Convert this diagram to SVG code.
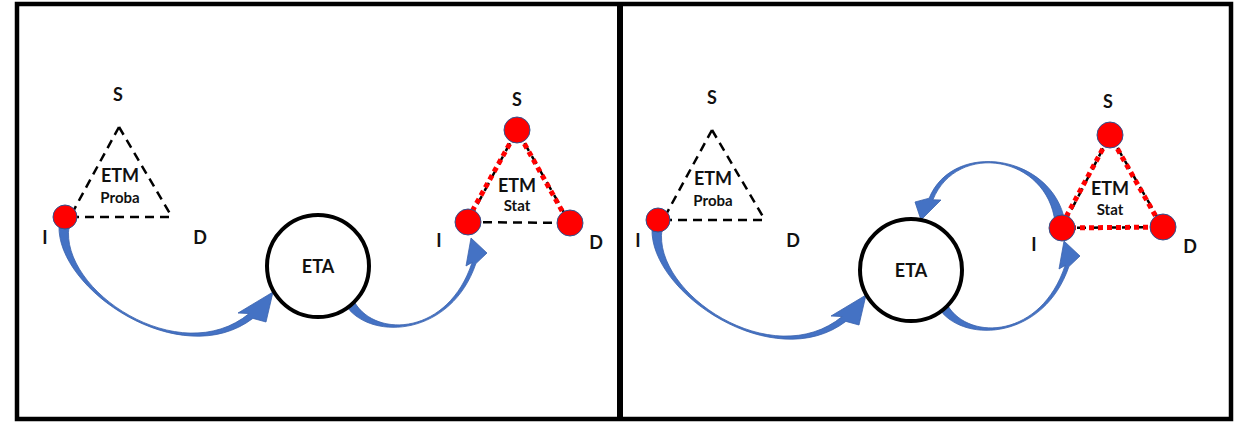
<svg xmlns="http://www.w3.org/2000/svg" width="1238" height="422" viewBox="0 0 1238 422">
  <style>
    .lbl { font-family: Lato, "Liberation Sans", sans-serif; font-weight: 700; fill: #111; text-anchor: middle; }
    .big { font-size: 18px; }
    .small { font-size: 15px; }
    .dash { fill: none; stroke: #000; stroke-width: 2.5; stroke-dasharray: 9 6; }
    .dots { fill: none; stroke: #ff0000; stroke-width: 5; stroke-dasharray: 5 4; }
    .node { fill: #ff0000; stroke: #2f528f; stroke-width: 1; }
    .eta { fill: #fff; stroke: #000; stroke-width: 4; }
    .arrow { fill: #4472c4; stroke: #3a62ad; stroke-width: 0.8; stroke-linejoin: round; }
  </style>

  <!-- outer frame and panel divider -->
  <g id="frame" fill="none" stroke="#000">
    <rect x="17" y="4" width="1214" height="415" stroke-width="4.5"/>
    <line x1="620" y1="4" x2="620" y2="419" stroke-width="6"/>
  </g>

  <!-- triangle outlines (under everything else) -->
  <g id="edges-left-proba">
    <path class="dash" d="M119 127 L70 217 M119 127 L172 217 M70 217 L172 217"/>
  </g>
  <g id="edges-left-stat">
    <path class="dash" d="M517 130 L468 222 M517 130 L570 223 M468 222 L570 223"/>
    <path class="dots" d="M514 136 L465 224 M520 136 L570 225"/>
  </g>
  <g id="edges-right-proba">
    <path class="dash" d="M712 130 L663 220 M712 130 L765 220 M663 220 L765 220"/>
  </g>
  <g id="edges-right-stat">
    <path class="dash" d="M1110 135 L1062 228 M1110 135 L1163 227 M1062 228 L1163 227"/>
    <path class="dots" d="M1107 141 L1059 230 M1113 141 L1163 229 M1062 228 L1163 227"/>
  </g>

  <!-- curved arrows -->
  <g id="connectors">
    <g id="left-arrows">
      <!-- I (Proba) to ETA -->
      <path class="arrow" d="M59 225.5 C56.5 289.9 180.9 373.2 252.9 318.4 L266 322 L273 292 L238 313 L249.1 313.6 C179.1 370.8 59.5 290.1 69 226.5 Z"/>
      <!-- ETA to I (Stat) -->
      <path class="arrow" d="M347.3 307.5 C373.3 341.1 451.4 335.5 475.9 263.6 L487 253 L471 238 L466 266 L472.1 262.4 C448.6 334.5 376.7 338.9 354.7 302.5 Z"/>
    </g>
    <g id="right-arrows">
      <g transform="translate(593 3)">
        <path class="arrow" d="M59 225.5 C56.5 289.9 180.9 373.2 252.9 318.4 L266 322 L273 292 L238 313 L249.1 313.6 C179.1 370.8 59.5 290.1 69 226.5 Z"/>
        <path class="arrow" d="M347.3 307.5 C373.3 341.1 451.4 335.5 475.9 263.6 L487 253 L471 238 L466 266 L472.1 262.4 C448.6 334.5 376.7 338.9 354.7 302.5 Z"/>
      </g>
      <!-- I (Stat) back to ETA -->
      <path class="arrow" d="M1064.9 221.3 C1052.5 154.6 953.1 139.2 929.1 198.2 L915 202 L921 220 L941 200 L932.9 199.8 C956.9 140.8 1047.5 155.4 1055.1 222.7 Z"/>
    </g>
  </g>

  <!-- left panel -->
  <g id="etm-proba-left">
    <circle class="node" cx="65" cy="217" r="12"/>
    <text class="lbl big" x="118" y="101">S</text>
    <text class="lbl big" x="120" y="182">ETM</text>
    <text class="lbl small" x="120" y="203">Proba</text>
    <text class="lbl big" x="45" y="244">I</text>
    <text class="lbl big" x="200" y="244">D</text>
  </g>
  <g id="eta-left">
    <circle class="eta" cx="318" cy="266" r="51"/>
    <text class="lbl big" x="318" y="273">ETA</text>
  </g>
  <g id="etm-stat-left">
    <circle class="node" cx="517" cy="130" r="13"/>
    <circle class="node" cx="468" cy="222" r="13"/>
    <circle class="node" cx="570" cy="223" r="13"/>
    <text class="lbl big" x="517" y="106">S</text>
    <text class="lbl big" x="517" y="192">ETM</text>
    <text class="lbl small" x="517" y="211">Stat</text>
    <text class="lbl big" x="439" y="247">I</text>
    <text class="lbl big" x="596" y="249">D</text>
  </g>

  <!-- right panel -->
  <g id="etm-proba-right">
    <circle class="node" cx="658" cy="220" r="12"/>
    <text class="lbl big" x="712" y="104">S</text>
    <text class="lbl big" x="713" y="185">ETM</text>
    <text class="lbl small" x="713" y="206">Proba</text>
    <text class="lbl big" x="638" y="247">I</text>
    <text class="lbl big" x="793" y="247">D</text>
  </g>
  <g id="eta-right">
    <circle class="eta" cx="911" cy="270" r="51"/>
    <text class="lbl big" x="911" y="277">ETA</text>
  </g>
  <g id="etm-stat-right">
    <circle class="node" cx="1110" cy="135" r="13"/>
    <circle class="node" cx="1062" cy="228" r="13"/>
    <circle class="node" cx="1163" cy="227" r="13"/>
    <text class="lbl big" x="1108" y="108">S</text>
    <text class="lbl big" x="1110" y="195">ETM</text>
    <text class="lbl small" x="1110" y="215">Stat</text>
    <text class="lbl big" x="1034" y="251">I</text>
    <text class="lbl big" x="1190" y="253">D</text>
  </g>
</svg>
